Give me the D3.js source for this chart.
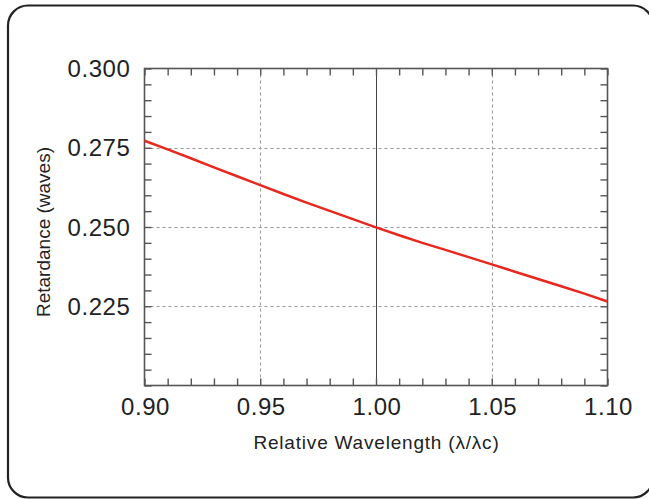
<!DOCTYPE html>
<html>
<head>
<meta charset="utf-8">
<script src="https://cdn.jsdelivr.net/npm/d3@7"></script>
<style>
html,body{margin:0;padding:0;background:#fff;}
svg{display:block;}
text{font-family:"Liberation Sans",Arial,Helvetica,sans-serif;fill:#222;}
</style>
</head>
<body>
<svg id="chart" width="649" height="499"></svg>
<script>
// Data
const wavelength = [0.90,0.91,0.92,0.93,0.94,0.95,0.96,0.97,0.98,0.99,1.00,1.01,1.02,1.03,1.04,1.05,1.06,1.07,1.08,1.09,1.10];
const retardance = [0.2772,0.2745,0.2717,0.2688,0.2660,0.2632,0.2604,0.2577,0.2551,0.2525,0.2499,0.2474,0.2450,0.2428,0.2405,0.2382,0.2359,0.2336,0.2313,0.2290,0.2265];
const xTickLabels = ["0.90","0.95","1.00","1.05","1.10"];
const xTicks = [0.90,0.95,1.00,1.05,1.10];
const yTickLabels = ["0.225","0.250","0.275","0.300"];
const yTicks = [0.225,0.250,0.275,0.300];
const xMinor = d3.range(0, 21).map(i => 0.90 + i*0.01);
const yMinor = d3.range(0, 21).map(i => 0.200 + i*0.005);
const xTitle = "Relative Wavelength (λ/λc)";
const yTitle = "Retardance (waves)";

const svg = d3.select("#chart");
const L = 144.5, R = 607.5, T = 68.5, B = 385.5;

// outer rounded frame
svg.append("rect")
  .attr("x", 8).attr("y", 5.5).attr("width", 645).attr("height", 492)
  .attr("rx", 20).attr("ry", 20)
  .attr("fill", "none").attr("stroke", "#222").attr("stroke-width", 2.2);

const x = d3.scaleLinear().domain([0.90, 1.10]).range([L, R]);
const y = d3.scaleLinear().domain([0.200, 0.300]).range([B, T]);

// grid
const g = svg.append("g");
g.selectAll("line.gx").data(xTicks.filter(v => v > 0.9 && v < 1.1)).enter().append("line")
  .attr("x1", d => Math.round(x(d)) + 0.5).attr("x2", d => Math.round(x(d)) + 0.5)
  .attr("y1", T).attr("y2", B)
  .attr("stroke", d => Math.abs(d - 1.0) < 1e-9 ? "#444" : "#999")
  .attr("stroke-width", 1)
  .attr("stroke-dasharray", d => Math.abs(d - 1.0) < 1e-9 ? null : "3,3");
g.selectAll("line.gy").data(yTicks.filter(v => v < 0.3)).enter().append("line")
  .attr("y1", d => Math.round(y(d)) + 0.5).attr("y2", d => Math.round(y(d)) + 0.5)
  .attr("x1", L).attr("x2", R)
  .attr("stroke", "#999").attr("stroke-width", 1).attr("stroke-dasharray", "3,3");

// axes with inward minor ticks on all sides
const tickLen = 7;
const axStyle = sel => {
  sel.select(".domain").remove();
  sel.selectAll(".tick line").attr("stroke", "#555").attr("stroke-width", 1.4);
  sel.selectAll(".tick text").remove();
};
svg.append("g").attr("transform", `translate(0,${B})`)
  .call(d3.axisBottom(x).tickValues(xMinor).tickSize(-tickLen)).call(axStyle);
svg.append("g").attr("transform", `translate(0,${T})`)
  .call(d3.axisTop(x).tickValues(xMinor).tickSize(-tickLen)).call(axStyle);
svg.append("g").attr("transform", `translate(${L},0)`)
  .call(d3.axisLeft(y).tickValues(yMinor).tickSize(-tickLen)).call(axStyle);
svg.append("g").attr("transform", `translate(${R},0)`)
  .call(d3.axisRight(y).tickValues(yMinor).tickSize(-tickLen)).call(axStyle);

// plot border
svg.append("rect").attr("x", L).attr("y", T).attr("width", R - L).attr("height", B - T)
  .attr("fill", "none").attr("stroke", "#555").attr("stroke-width", 1.6);

// tick labels
svg.selectAll("text.xl").data(xTicks).enter().append("text")
  .attr("x", d => x(d) + 1).attr("y", B + 29)
  .attr("text-anchor", "middle").attr("font-size", 24).attr("letter-spacing", 0.6)
  .text((d, i) => xTickLabels[i]);
svg.selectAll("text.yl").data(yTicks).enter().append("text")
  .attr("x", L - 14).attr("y", d => y(d) + 8.5)
  .attr("text-anchor", "end").attr("font-size", 24).attr("letter-spacing", 0.6)
  .text((d, i) => yTickLabels[i]);

// titles
svg.append("text").attr("x", 376.5).attr("y", 449)
  .attr("text-anchor", "middle").attr("font-size", 19).attr("letter-spacing", 0.8).text(xTitle);
svg.append("text").attr("transform", `translate(50,232) rotate(-90)`)
  .attr("text-anchor", "middle").attr("font-size", 19).text(yTitle);

// data line
const line = d3.line().x((d, i) => x(wavelength[i])).y(d => y(d));
svg.append("path").datum(retardance).attr("d", line)
  .attr("fill", "none").attr("stroke", "#e8281e").attr("stroke-width", 2.5);
</script>
</body>
</html>
